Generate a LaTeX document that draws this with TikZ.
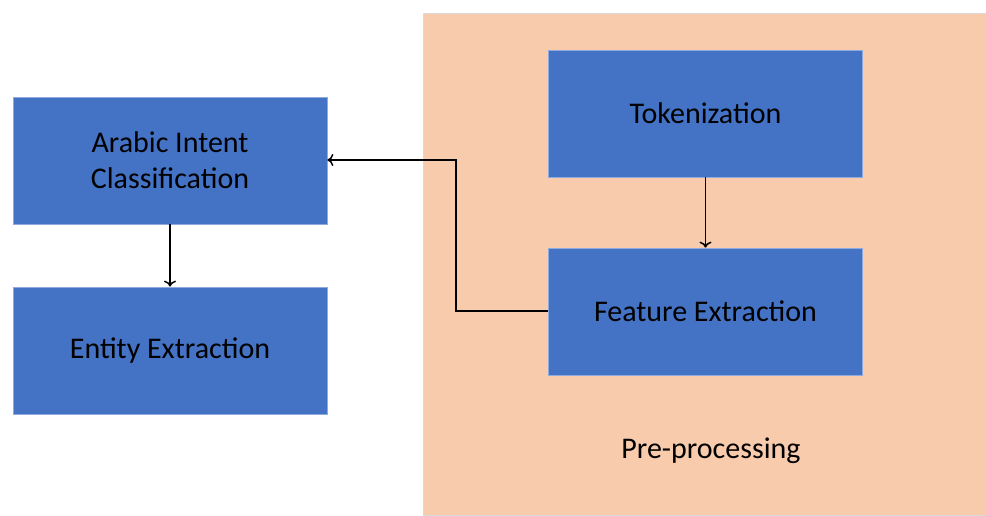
\documentclass[tikz,border=0pt]{standalone}
\usepackage{fontspec}
\setmainfont{Carlito}
\usetikzlibrary{arrows.meta}
\definecolor{boxblue}{HTML}{4472C4}
\definecolor{boxedge}{HTML}{8FAADC}
\definecolor{peach}{HTML}{F8CBAD}
\definecolor{peachedge}{HTML}{D9D9D9}
\begin{document}
\begin{tikzpicture}[x=1pt,y=1pt,
  stage/.style={rectangle, fill=boxblue, draw=boxedge, line width=0.8pt,
    minimum width=314pt, minimum height=127pt, align=center,
    font=\fontsize{30}{36}\selectfont, text=black, inner sep=0pt},
  link/.style={draw=black, line width=1.5pt, -{To[length=6pt,width=12pt]}}]
  \useasboundingbox (0,0) rectangle (986,515);
  % pre-processing panel
  \fill[peach, draw=peachedge, line width=0.8pt] (423,0) rectangle (986,502);
  \node[font=\fontsize{30}{36}\selectfont] (pre) at (711,64) {Pre-processing};
  % stages
  \node[stage] (tok) at (705.5,401.5) {Tokenization};
  \node[stage] (feat) at (705.5,203.5) {Feature Extraction};
  \node[stage] (aic) at (170,354.5) {\raisebox{-2pt}{\parbox{300pt}{\centering Arabic Intent\\Classification}}};
  \node[stage] (ent) at (170,164.5) {\raisebox{-3pt}{Entity Extraction}};
  % connectors
  \coordinate (bend1) at (456,204);
  \coordinate (bend2) at (456,355);
  \draw[link] (tok.south) -- (feat.north);
  \draw[link] (feat.west |- bend1) -- (bend1) -- (bend2) -- (aic.east |- bend2);
  \draw[link] (aic.south) -- (ent.north);
\end{tikzpicture}
\end{document}
